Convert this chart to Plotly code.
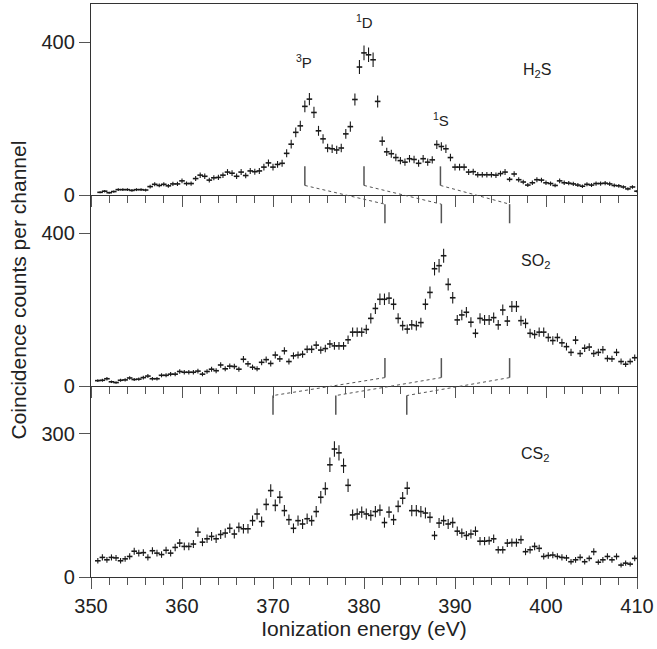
import plotly.graph_objects as go
from plotly.subplots import make_subplots

# ---------------- data ----------------
h2s_start = 351.0
so2_start = 350.75
cs2_start = 350.75
channel_width = 0.5

h2s_counts = [7, 10, 6, 9, 14, 14, 14, 12, 14, 14,
              13, 22, 28, 25, 28, 24, 29, 29, 37, 30,
              30, 43, 52, 49, 39, 45, 46, 52, 60, 57,
              49, 60, 51, 63, 61, 63, 73, 84, 73, 80,
              83, 109, 133, 164, 181, 232, 251, 216, 168, 147,
              123, 121, 118, 123, 160, 179, 250, 335, 372, 367,
              354, 245, 141, 113, 108, 98, 90, 86, 95, 93,
              83, 95, 86, 92, 132, 127, 121, 98, 73, 73,
              73, 60, 61, 53, 53, 53, 53, 52, 56, 60,
              41, 55, 40, 34, 26, 32, 40, 39, 32, 30,
              25, 37, 32, 31, 29, 26, 23, 28, 26, 30,
              30, 31, 29, 25, 24, 21, 16, 21, 10]

so2_counts = [14, 15, 19, 11, 9, 15, 16, 21, 17, 18,
              22, 26, 19, 19, 28, 28, 31, 31, 38, 36,
              36, 36, 39, 31, 38, 44, 40, 55, 45, 52,
              51, 44, 70, 58, 49, 45, 62, 69, 59, 81,
              71, 92, 64, 79, 81, 83, 96, 96, 107, 94,
              98, 110, 105, 105, 105, 121, 141, 141,
              141, 148, 177, 203, 227, 227, 230, 214, 177, 158,
              149, 160, 158, 166, 214, 245, 307, 315, 341, 266,
              231, 173, 186, 193, 167, 138, 177, 173, 173, 179,
              160, 199, 170, 208, 208, 171, 164, 138, 135, 141,
              141, 127, 119, 127, 113, 103, 88, 120, 85, 99,
              102, 85, 88, 95, 72, 71, 88, 64, 57, 64,
              74]

cs2_counts = [34, 41, 36, 41, 40, 34, 38, 43, 54, 50,
              51, 41, 55, 50, 47, 56, 50, 62, 71, 64,
              64, 69, 94, 73, 80, 85, 80, 89, 92, 102,
              90, 104, 101, 101, 118, 132, 116, 152, 181, 150,
              167, 139, 120, 102, 118, 111, 122, 118, 137, 167,
              185, 235, 268, 260, 233, 192, 130, 132,
              136, 132, 129, 137, 140, 114, 136, 120, 148, 165,
              186, 139, 139, 137, 134, 125, 87, 113, 118, 111,
              114, 96, 92, 87, 90, 96, 75, 75, 76, 80,
              57, 57, 71, 72, 72, 78, 53, 57, 64, 60,
              43, 45, 46, 43, 41, 40, 32, 36, 41, 32,
              39, 53, 31, 36, 43, 36, 43, 25, 29, 27,
              39]

# state energies marked in each spectrum (eV)
h2s_levels = [373.5, 380.0, 388.4]
so2_levels = [382.3, 388.5, 396.0]
cs2_levels = [370.0, 376.9, 384.7]
level_names = ["<sup>3</sup>P", "<sup>1</sup>D", "<sup>1</sup>S"]
molecule_names = ["H<sub>2</sub>S", "SO<sub>2</sub>", "CS<sub>2</sub>"]

x_ticks = [350, 360, 370, 380, 390, 400, 410]
y_ticks = [[0, 400], [0, 400], [0, 300]]
y_ranges = [[0, 500], [0, 500], [0, 400]]

# ---------------- figure ----------------
FONT = "Liberation Sans, Arial, Helvetica, sans-serif"
INK = "#1a1a1a"
GREY = "#555555"
AXIS = "#333333"
TXT = "#222222"

fig = make_subplots(rows=3, cols=1, shared_xaxes=True, vertical_spacing=0)

series = [(h2s_start, h2s_counts), (so2_start, so2_counts), (cs2_start, cs2_counts)]
for row, (start, counts) in enumerate(series, start=1):
    energies = [start + channel_width * i for i in range(len(counts))]
    fig.add_trace(go.Scatter(
        x=energies, y=counts, mode="markers",
        marker=dict(symbol="line-ew", size=4, color=INK,
                    line=dict(color=INK, width=1.6)),
        error_y=dict(type="sqrt", visible=True, thickness=1.1, width=0, color=INK),
        showlegend=False, hoverinfo="x+y"), row=row, col=1)

for row in (1, 2, 3):
    fig.update_xaxes(range=[350, 410], tickvals=x_ticks, ticks="outside", ticklen=11,
                     tickwidth=1.2, tickcolor=GREY, showline=True, linecolor=AXIS,
                     linewidth=1.3, mirror=(row == 1), showgrid=False, zeroline=False,
                     minor=dict(dtick=2, ticks="outside", ticklen=7, tickwidth=1.2,
                                tickcolor=GREY, showgrid=False),
                     showticklabels=(row == 3),
                     tickfont=dict(family=FONT, size=20, color=TXT),
                     row=row, col=1)
    fig.update_yaxes(range=y_ranges[row - 1], tickvals=y_ticks[row - 1], ticks="outside",
                     ticklen=11, tickwidth=1.2, tickcolor=GREY, showline=True,
                     linecolor=AXIS, linewidth=1.3, mirror=True, showgrid=False,
                     zeroline=False, tickfont=dict(family=FONT, size=20, color=TXT),
                     row=row, col=1)

fig.update_xaxes(title=dict(text="Ionization energy (eV)",
                            font=dict(family=FONT, size=21, color=TXT), standoff=5),
                 row=3, col=1)

# paper-coordinate helper for a panel value
def paper_y(panel, value):
    dom = fig.layout[["yaxis", "yaxis2", "yaxis3"][panel]].domain
    r0, r1 = y_ranges[panel]
    return dom[0] + (value - r0) / (r1 - r0) * (dom[1] - dom[0])

shapes = []
def vline(x, panel, lo, hi):
    shapes.append(dict(type="line", xref="x", yref="paper", x0=x, x1=x,
                       y0=paper_y(panel, lo), y1=paper_y(panel, hi),
                       line=dict(color=GREY, width=1.5)))

def dline(xa, pa, va, xb, pb, vb):
    shapes.append(dict(type="line", xref="x", yref="paper", x0=xa, x1=xb,
                       y0=paper_y(pa, va), y1=paper_y(pb, vb),
                       line=dict(color=GREY, width=1, dash="dot")))

for eh, es, ec in zip(h2s_levels, so2_levels, cs2_levels):
    vline(eh, 0, 25, 75)
    vline(es, 1, 426, 476)
    dline(eh, 0, 25, es, 1, 476)
    vline(es, 1, 22, 73)
    vline(ec, 2, 340, 380)
    dline(es, 1, 22, ec, 2, 380)

fig.update_layout(shapes=shapes)

# labels
level_label_pos = [(373.4, 349), (380.1, 454), (388.5, 198)]
for name, (lx, ly) in zip(level_names, level_label_pos):
    fig.add_annotation(x=lx, y=ly, xref="x", yref="y", text=name, showarrow=False,
                       font=dict(family=FONT, size=15, color=TXT))

mol_pos = [(399.0, 325, "y"), (398.8, 325, "y2"), (398.8, 257, "y3")]
for name, (mx, my, yr) in zip(molecule_names, mol_pos):
    fig.add_annotation(x=mx, y=my, xref="x", yref=yr, text=name, showarrow=False,
                       font=dict(family=FONT, size=16, color=TXT))

fig.add_annotation(x=0, y=0.5, xref="paper", yref="paper", xshift=-73,
                   xanchor="center", yanchor="middle",
                   text="Coincidence counts per channel", textangle=-90,
                   showarrow=False, font=dict(family=FONT, size=21, color=TXT))

fig.update_layout(width=657, height=649,
                  margin=dict(l=91, r=20, t=4, b=72),
                  plot_bgcolor="white", paper_bgcolor="white",
                  font=dict(family=FONT, color=TXT))

fig.write_html("out.html", config={"displayModeBar": False},
               post_script="document.body.style.margin='0';")
